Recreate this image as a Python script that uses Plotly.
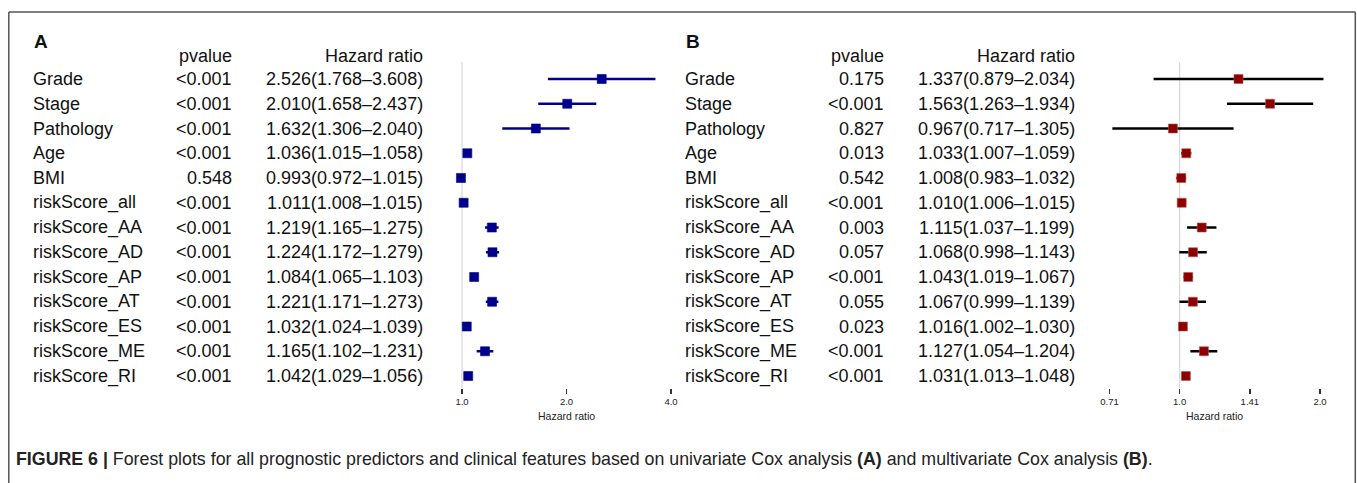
import numpy as np
import plotly.graph_objects as go

# ---------------- data ----------------
variables = ["Grade", "Stage", "Pathology", "Age", "BMI", "riskScore_all",
             "riskScore_AA", "riskScore_AD", "riskScore_AP", "riskScore_AT",
             "riskScore_ES", "riskScore_ME", "riskScore_RI"]

# Panel A: univariate Cox
uni_p = ["<0.001", "<0.001", "<0.001", "<0.001", "0.548", "<0.001", "<0.001",
         "<0.001", "<0.001", "<0.001", "<0.001", "<0.001", "<0.001"]
uni_hr = [2.526, 2.010, 1.632, 1.036, 0.993, 1.011, 1.219, 1.224, 1.084, 1.221, 1.032, 1.165, 1.042]
uni_lo = [1.768, 1.658, 1.306, 1.015, 0.972, 1.008, 1.165, 1.172, 1.065, 1.171, 1.024, 1.102, 1.029]
uni_hi = [3.608, 2.437, 2.040, 1.058, 1.015, 1.015, 1.275, 1.279, 1.103, 1.273, 1.039, 1.231, 1.056]

# Panel B: multivariate Cox
multi_p = ["0.175", "<0.001", "0.827", "0.013", "0.542", "<0.001", "0.003",
           "0.057", "<0.001", "0.055", "0.023", "<0.001", "<0.001"]
multi_hr = [1.337, 1.563, 0.967, 1.033, 1.008, 1.010, 1.115, 1.068, 1.043, 1.067, 1.016, 1.127, 1.031]
multi_lo = [0.879, 1.263, 0.717, 1.007, 0.983, 1.006, 1.037, 0.998, 1.019, 0.999, 1.002, 1.054, 1.013]
multi_hi = [2.034, 1.934, 1.305, 1.059, 1.032, 1.015, 1.199, 1.143, 1.067, 1.139, 1.030, 1.204, 1.048]

ticks_a = [1.0, 2.0, 4.0]
ticklab_a = ["1.0", "2.0", "4.0"]
ticks_b = [0.7071, 1.0, 1.4142, 2.0]
ticklab_b = ["0.71", "1.0", "1.41", "2.0"]

caption = ("<b>FIGURE 6 |</b> Forest plots for all prognostic predictors and clinical features "
           "based on univariate Cox analysis <b>(A)</b> and multivariate Cox analysis <b>(B)</b>.")

# ---------------- layout geometry (pixels in the 1357x483 window) ----------------
# page body margin is removed by the post script, so the figure fills the window
OX, OY = 0, 0
W, H = 1357, 483
FONT = "Liberation Sans, Arial, Helvetica, sans-serif"
row0_px, row_step = 79.0, 24.75
plot_top_px, axis_px = 62.0, 388.0


def px_x(p):
    return (p - OX) / W


def px_y(p):
    return 1 - (p - OY) / H


# log axis pixel mapping: (value at px, px per log10 unit)
def axis_domain(v_ref, px_ref, px_per_dec, lo, hi):
    left = px_ref + px_per_dec * (np.log10(lo) - np.log10(v_ref))
    right = px_ref + px_per_dec * (np.log10(hi) - np.log10(v_ref))
    return [px_x(left), px_x(right)], [np.log10(lo), np.log10(hi)]


dom_a, rng_a = axis_domain(1.0, 462.0, (671.0 - 462.0) / np.log10(4), 0.94, 4.25)
dom_b, rng_b = axis_domain(1.0, 1179.7, (1320.0 - 1179.7) / np.log10(2), 0.68, 2.12)

n = len(variables)
rows = list(range(n))
y_top = (plot_top_px - row0_px) / row_step
y_bot = (axis_px - row0_px) / row_step

fig = go.Figure()


def ci_xy(lo, hi):
    xs, ys = [], []
    for i, (a, b) in enumerate(zip(lo, hi)):
        xs += [a, b, None]
        ys += [i, i, None]
    return xs, ys


for hr, lo, hi, xa, lcol, mcol, medge in [
    (uni_hr, uni_lo, uni_hi, "x", "#00008B", "#00008B", "#00008B"),
    (multi_hr, multi_lo, multi_hi, "x2", "#000000", "#8B0000", "#b85050"),
]:
    # reference line at HR = 1
    fig.add_trace(go.Scatter(x=[1, 1], y=[y_top, y_bot], mode="lines", xaxis=xa, yaxis="y",
                             line=dict(color="#cfcfcf", width=1), hoverinfo="skip", showlegend=False))
    xs, ys = ci_xy(lo, hi)
    fig.add_trace(go.Scatter(x=xs, y=ys, mode="lines", xaxis=xa, yaxis="y",
                             line=dict(color=lcol, width=2.6), hoverinfo="skip", showlegend=False))
    fig.add_trace(go.Scatter(x=hr, y=rows, mode="markers", xaxis=xa, yaxis="y", cliponaxis=False,
                             marker=dict(symbol="square", size=9, color=mcol,
                                         line=dict(width=0.6, color=medge)),
                             showlegend=False))

axis_common = dict(type="log", showgrid=False, zeroline=False, showline=False,
                   ticks="outside", ticklen=5, tickwidth=1.4, tickcolor="#333",
                   tickfont=dict(family=FONT, size=9.5, color="#222"), anchor="y", fixedrange=True)

fig.update_layout(
    width=W, height=H, margin=dict(l=0, r=0, t=0, b=0),
    paper_bgcolor="white", plot_bgcolor="rgba(0,0,0,0)",
    xaxis=dict(domain=dom_a, range=rng_a, tickvals=ticks_a, ticktext=ticklab_a, **axis_common),
    xaxis2=dict(domain=dom_b, range=rng_b, tickvals=ticks_b, ticktext=ticklab_b, **axis_common),
    yaxis=dict(domain=[px_y(axis_px), px_y(plot_top_px)], range=[y_bot, y_top],
               visible=False, fixedrange=True),
    font=dict(family=FONT, color="#111"),
)

shapes = []
# axis lines spanning the tick range only
for xr, tv in [("x", ticks_a), ("x2", ticks_b)]:
    shapes.append(dict(type="line", xref=xr, yref="paper",
                       x0=np.log10(tv[0]), x1=np.log10(tv[-1]),
                       y0=px_y(axis_px), y1=px_y(axis_px),
                       line=dict(color="#333", width=1.4)))
# outer frame (open at bottom, extends beyond the picture)
frame = dict(color="#555", width=1.5)
shapes.append(dict(type="line", xref="paper", yref="paper", x0=px_x(8.8), x1=px_x(8.8),
                   y0=px_y(12), y1=-0.1, line=frame))
shapes.append(dict(type="line", xref="paper", yref="paper", x0=px_x(1355.3), x1=px_x(1355.3),
                   y0=px_y(12), y1=-0.1, line=frame))
shapes.append(dict(type="line", xref="paper", yref="paper", x0=px_x(8.8), x1=px_x(1355.3),
                   y0=px_y(12), y1=px_y(12), line=frame))
fig.update_layout(shapes=shapes)

ann = []
FS = 18
panels = [
    ("A", 33, 233, 424, uni_p, uni_hr, uni_lo, uni_hi, "x", ticks_a),
    ("B", 685, 885, 1076, multi_p, multi_hr, multi_lo, multi_hi, "x2", ticks_b),
]
for letter, x_lab, x_p, x_hr, pv, hr, lo, hi, xa, tv in panels:
    ann.append(dict(text="<b>%s</b>" % letter, x=px_x(x_lab - 1), y=px_y(42), xref="paper", yref="paper",
                    xanchor="left", yanchor="middle", showarrow=False,
                    font=dict(family=FONT, size=19, color="#111")))
    ann.append(dict(text="pvalue", x=px_x(x_p + 1), y=px_y(56), xref="paper", yref="paper",
                    xanchor="right", yanchor="middle", showarrow=False,
                    font=dict(family=FONT, size=FS, color="#111")))
    ann.append(dict(text="Hazard ratio", x=px_x(x_hr + 1), y=px_y(56), xref="paper", yref="paper",
                    xanchor="right", yanchor="middle", showarrow=False,
                    font=dict(family=FONT, size=FS, color="#111")))
    for i in range(n):
        ann.append(dict(text=variables[i], x=px_x(x_lab - 2), y=i, xref="paper", yref="y",
                        xanchor="left", yanchor="middle", showarrow=False,
                        font=dict(family=FONT, size=FS, color="#111")))
        ann.append(dict(text=pv[i], x=px_x(x_p + 1), y=i, xref="paper", yref="y",
                        xanchor="right", yanchor="middle", showarrow=False,
                        font=dict(family=FONT, size=FS, color="#111")))
        ann.append(dict(text="%.3f(%.3f\u2013%.3f)" % (hr[i], lo[i], hi[i]),
                        x=px_x(x_hr + 1), y=i, xref="paper", yref="y",
                        xanchor="right", yanchor="middle", showarrow=False,
                        font=dict(family=FONT, size=FS, color="#111")))
    # axis title centred under the axis line
    ann.append(dict(text="Hazard ratio", x=(np.log10(tv[0]) + np.log10(tv[-1])) / 2, y=px_y(416),
                    xref=xa, yref="paper", xanchor="center", yanchor="middle", showarrow=False,
                    font=dict(family=FONT, size=10.5, color="#222")))

ann.append(dict(text=caption, x=px_x(14), y=px_y(459), xref="paper", yref="paper",
                xanchor="left", yanchor="middle", showarrow=False,
                font=dict(family=FONT, size=17.8, color="#222")))
fig.update_layout(annotations=ann)

fig.write_html("out.html", config={"displayModeBar": False, "staticPlot": True},
               post_script="document.body.style.margin='0px';document.body.style.overflow='hidden';")
